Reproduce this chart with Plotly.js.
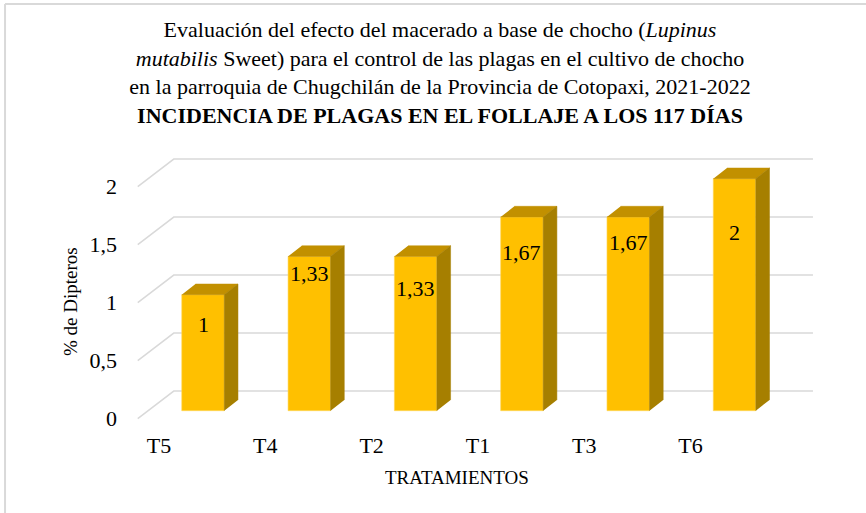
<!DOCTYPE html>
<html>
<head>
<meta charset="utf-8">
<script src="https://cdn.plot.ly/plotly-3.0.1.min.js"></script>
<style>
  body { margin: 0; background: #fff; }
  #chart { width: 866px; height: 513px; }
</style>
</head>
<body>
<div id="chart"></div>
<script>
const tratamientos = ['T5', 'T4', 'T2', 'T1', 'T3', 'T6'];
const dipteros = [1, 1.33, 1.33, 1.67, 1.67, 2];
const yTicks = [0, 0.5, 1, 1.5, 2];

// fake 3D look (Excel style): offsets in axis units
const barShift = 0.414;   // bars sit right of the tick labels
const barWidth = 0.4;
const barBase = 0.069;    // bar plane is a bit behind the front edge
const depthX = 0.129, depthY = 0.092;   // bar depth
const wallX = 0.339, wallY = 0.238;     // back wall offset of the grid
const gridLeft = -0.2, gridRight = 6.152;
const labelDrop = [30, 17, 32, 36, 26, 54];  // px below bar top

const font = 'Liberation Serif, Times New Roman, serif';
const frontColor = '#FFC000', topColor = '#C29000', sideColor = '#A67F00';

let xs = tratamientos.map((t, i) => i + barShift);

let topX = [], topY = [], sideX = [], sideY = [];
xs.forEach((x, i) => {
  let l = x - barWidth / 2, r = x + barWidth / 2;
  let t = barBase + dipteros[i], b = barBase;
  topX.push(l, r, r + depthX, l + depthX, null);
  topY.push(t, t, t + depthY, t + depthY, null);
  sideX.push(r, r, r + depthX, r + depthX, null);
  sideY.push(b, t, t + depthY, b + depthY, null);
});

let traces = [
  {type: 'bar', x: xs, y: dipteros, base: barBase, width: barWidth,
   marker: {color: frontColor, line: {color: '#FFD65C', width: 0.6}},
   hoverinfo: 'skip'},
  {type: 'scatter', x: topX, y: topY, mode: 'lines', fill: 'toself',
   fillcolor: topColor, line: {color: topColor, width: 0.5}, hoverinfo: 'skip'},
  {type: 'scatter', x: sideX, y: sideY, mode: 'lines', fill: 'toself',
   fillcolor: sideColor, line: {color: sideColor, width: 0.5}, hoverinfo: 'skip'}
];

let shapes = yTicks.map(v => ({
  type: 'path', xref: 'x', yref: 'y', layer: 'below',
  path: `M ${gridLeft},${v} L ${gridLeft + wallX},${v + wallY} L ${gridRight},${v + wallY}`,
  line: {color: '#D9D9D9', width: 1.5}
}));
// chart frame (left and top edge)
shapes.push({type: 'line', xref: 'paper', yref: 'paper', x0: -0.1777, x1: -0.1777, y0: 1.477, y1: -0.32,
             line: {color: '#D9D9D9', width: 2}});
shapes.push({type: 'line', xref: 'paper', yref: 'paper', x0: -0.1777, x1: 1.08, y0: 1.477, y1: 1.477,
             line: {color: '#D9D9D9', width: 2}});

let annotations = xs.map((x, i) => ({
  x: x, y: barBase + dipteros[i], xref: 'x', yref: 'y',
  text: String(dipteros[i]).replace('.', ','), showarrow: false,
  yanchor: 'middle', yshift: -labelDrop[i],
  font: {family: font, size: 22, color: '#000'}
}));
// axis titles, placed where Excel put them
annotations.push({
  text: 'TRATAMIENTOS', xref: 'paper', yref: 'paper',
  x: (457 - 128) / 692, y: (425 - 477) / 285, showarrow: false,
  xanchor: 'center', yanchor: 'middle',
  font: {family: font, size: 19, color: '#000'}
});
annotations.push({
  text: '% de Dipteros', xref: 'paper', yref: 'paper', textangle: -90,
  x: (70 - 128) / 692, y: (425 - 302) / 285, showarrow: false,
  xanchor: 'center', yanchor: 'middle',
  font: {family: font, size: 19, color: '#000'}
});

let layout = {
  width: 866, height: 513,
  margin: {l: 128, r: 46, t: 140, b: 88},
  paper_bgcolor: '#fff', plot_bgcolor: 'rgba(0,0,0,0)',
  showlegend: false,
  separators: ',.',
  font: {family: font, color: '#000'},
  title: {
    text: 'Evaluación del efecto del macerado a base de chocho (<i>Lupinus</i><br>' +
          '<i>mutabilis</i> Sweet) para el control de las plagas en el cultivo de chocho<br>' +
          'en la parroquia de Chugchilán de la Provincia de Cotopaxi, 2021-2022<br>' +
          '<b>INCIDENCIA DE PLAGAS EN EL FOLLAJE A LOS 117 DÍAS</b>',
    font: {family: font, size: 22, color: '#000'},
    x: 440 / 866, xref: 'container', xanchor: 'center',
    y: 1 - 37 / 513, yref: 'container', yanchor: 'top'
  },
  xaxis: {
    range: [-0.2916, 6.218],
    tickvals: tratamientos.map((t, i) => i), ticktext: tratamientos,
    showgrid: false, zeroline: false, showline: false, ticks: '',
    ticklabelstandoff: 5,
    tickfont: {family: font, size: 22, color: '#000'}
  },
  yaxis: {
    range: [-0.0543, 2.4026],
    tickvals: yTicks,
    showgrid: false, zeroline: false, showline: false, ticks: '',
    ticklabelstandoff: 10,
    tickfont: {family: font, size: 22, color: '#000'}
  },
  bargap: 0,
  shapes: shapes,
  annotations: annotations
};

Plotly.newPlot('chart', traces, layout, {staticPlot: true});
</script>
</body>
</html>
